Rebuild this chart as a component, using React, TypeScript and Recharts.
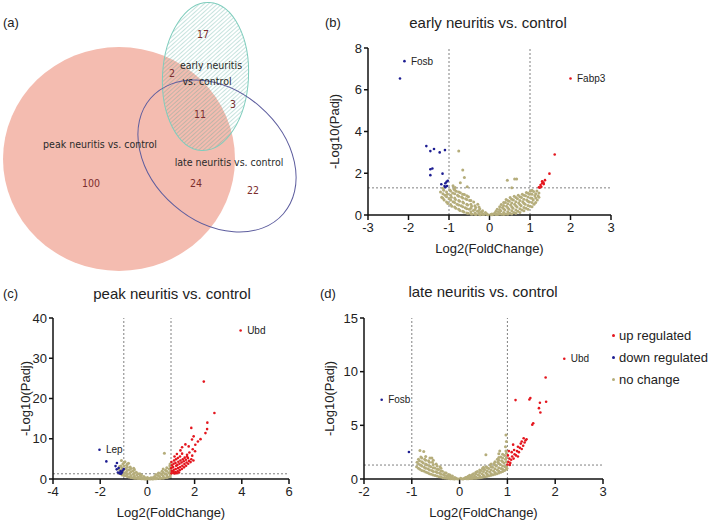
import React from "react";
import {
  Legend,
  LabelList,
  ReferenceLine,
  Scatter,
  ScatterChart,
  XAxis,
  YAxis,
  ZAxis,
} from "recharts";

type Row = [number, number, string?];

const UP = "#e4161e";
const DOWN = "#1d1d92";
const NONE = "#b5ad7b";
const AXIS = "#111";
const TEXT = "#222";
const FONT = "'Liberation Sans', Arial, sans-serif";
const VENN_FONT = "'Liberation Sans Narrow', 'DejaVu Sans Condensed', 'Liberation Sans', sans-serif";

// (a) venn
const vennSets = ["peak neuritis vs. control", "early neuritis vs. control", "late neuritis vs. control"];
const vennCounts = [17, 2, 3, 11, 100, 24, 22];

// (b) early neuritis vs. control
const earlyUp: Row[] = [
  [2.0, 6.54, "Fabp3"], [1.61, 2.9], [1.48, 1.98], [1.37, 1.67], [1.33, 1.56], [1.3, 1.52],
  [1.26, 1.44], [1.28, 1.35], [1.22, 1.33], [1.24, 1.31], [1.34, 1.48], [1.3, 1.62],
];
const earlyDown: Row[] = [
  [-2.1, 7.37, "Fosb"], [-2.21, 6.54], [-1.56, 3.3], [-1.46, 3.06], [-1.37, 3.16], [-1.23, 3.0],
  [-1.1, 3.11], [-1.41, 2.23], [-1.46, 2.19], [-1.46, 1.91], [-1.16, 1.98], [-1.19, 1.47],
  [-1.09, 1.52], [-1.06, 1.59], [-1.03, 1.64], [-1.11, 1.39], [-1.05, 1.39], [-1.09, 1.33],
];
const earlyNone: Row[] = [
  [-1.21, 1.1], [-1.18, 0.85],
  [-1.12, 0.72], [-1.1, 0.95], [-1.13, 1.18],
  [-1.03, 0.55], [-1.0, 0.78], [-1.04, 1.0], [-0.98, 1.2],
  [-0.93, 0.42], [-0.9, 0.63], [-0.94, 0.85], [-0.91, 1.05], [-0.88, 1.24],
  [-0.83, 0.32], [-0.8, 0.52], [-0.84, 0.74], [-0.79, 0.95], [-0.82, 1.14],
  [-0.73, 0.22], [-0.7, 0.44], [-0.74, 0.66], [-0.69, 0.86], [-0.72, 1.06],
  [-0.63, 0.14], [-0.6, 0.35], [-0.64, 0.57], [-0.59, 0.78], [-0.62, 0.98],
  [-0.53, 0.08], [-0.5, 0.28], [-0.54, 0.48], [-0.49, 0.7], [-0.52, 0.88],
  [-0.43, 0.04], [-0.4, 0.22], [-0.44, 0.42], [-0.39, 0.62],
  [-0.33, 0.02], [-0.3, 0.18], [-0.34, 0.36], [-0.29, 0.52],
  [-0.23, 0.01], [-0.2, 0.14], [-0.24, 0.3],
  [-0.14, 0.02], [-0.1, 0.12],
  [-0.04, 0.01], [0.03, 0.02],
  [0.1, 0.03], [0.13, 0.1],
  [0.2, 0.02], [0.22, 0.15], [0.19, 0.28],
  [0.3, 0.03], [0.28, 0.2], [0.32, 0.36], [0.29, 0.5],
  [0.4, 0.05], [0.38, 0.24], [0.42, 0.42], [0.39, 0.6], [0.41, 0.74],
  [0.5, 0.08], [0.48, 0.28], [0.52, 0.48], [0.49, 0.66], [0.51, 0.84],
  [0.6, 0.12], [0.58, 0.32], [0.62, 0.52], [0.59, 0.72], [0.61, 0.9],
  [0.7, 0.18], [0.68, 0.38], [0.72, 0.58], [0.69, 0.78], [0.71, 0.95],
  [0.8, 0.24], [0.78, 0.44], [0.82, 0.64], [0.79, 0.84], [0.81, 1.0],
  [0.9, 0.32], [0.88, 0.52], [0.92, 0.72], [0.89, 0.92], [0.91, 1.08],
  [1.0, 0.42], [0.98, 0.62], [1.02, 0.82], [0.99, 1.0], [1.01, 1.14],
  [1.1, 0.52], [1.08, 0.72], [1.12, 0.92], [1.09, 1.12],
  [1.18, 0.72], [1.2, 0.92], [1.17, 1.15],
  // in-between points of the dense cloud
  [-1.15, 0.8], [-1.15, 1.02],
  [-1.06, 0.62], [-1.06, 0.88], [-1.06, 1.1],
  [-0.96, 0.5], [-0.96, 0.72], [-0.96, 0.95], [-0.96, 1.15],
  [-0.86, 0.38], [-0.86, 0.6], [-0.86, 0.82], [-0.86, 1.02], [-0.86, 1.2],
  [-0.76, 0.28], [-0.76, 0.48], [-0.76, 0.7], [-0.76, 0.9], [-0.76, 1.1],
  [-0.66, 0.18], [-0.66, 0.4], [-0.66, 0.62], [-0.66, 0.82], [-0.66, 1.0],
  [-0.56, 0.1], [-0.56, 0.3], [-0.56, 0.52], [-0.56, 0.74], [-0.56, 0.92],
  [-0.46, 0.05], [-0.46, 0.15], [-0.46, 0.32], [-0.46, 0.52], [-0.46, 0.7],
  [-0.36, 0.03], [-0.36, 0.1], [-0.36, 0.26], [-0.36, 0.44],
  [-0.26, 0.03], [-0.26, 0.08], [-0.26, 0.22], [-0.26, 0.38],
  [-0.17, 0.02], [-0.17, 0.07], [-0.17, 0.2],
  [-0.07, 0.03], [-0.07, 0.06],
  [0.06, 0.01], [0.06, 0.05],
  [0.16, 0.02], [0.16, 0.06], [0.16, 0.18],
  [0.25, 0.05], [0.25, 0.1], [0.25, 0.26], [0.25, 0.4],
  [0.35, 0.02], [0.35, 0.12], [0.35, 0.3], [0.35, 0.46], [0.35, 0.6],
  [0.45, 0.03], [0.45, 0.16], [0.45, 0.35], [0.45, 0.54], [0.45, 0.7],
  [0.55, 0.05], [0.55, 0.2], [0.55, 0.4], [0.55, 0.58], [0.55, 0.76],
  [0.65, 0.08], [0.65, 0.24], [0.65, 0.44], [0.65, 0.64], [0.65, 0.84],
  [0.75, 0.12], [0.75, 0.3], [0.75, 0.5], [0.75, 0.7], [0.75, 0.88],
  [0.85, 0.2], [0.85, 0.36], [0.85, 0.56], [0.85, 0.76], [0.85, 0.95],
  [0.95, 0.28], [0.95, 0.46], [0.95, 0.66], [0.95, 0.86], [0.95, 1.04],
  [1.05, 0.4], [1.05, 0.6], [1.05, 0.8], [1.05, 1.0], [1.05, 1.18],
  [1.14, 0.6], [1.14, 0.82], [1.14, 1.02],
  [1.22, 0.85], [1.22, 1.05],
  // scattered above the cloud
  [-0.76, 3.06], [-0.66, 2.15], [-0.62, 1.8], [-0.72, 1.55], [-0.9, 1.4], [-0.55, 1.35],
  [-0.85, 1.32], [0.44, 1.67], [0.62, 1.72], [0.67, 1.72], [0.55, 1.3], [-1.15, 1.28],
];

// (c) peak neuritis vs. control
const peakUp: Row[] = [
  [3.95, 36.9, "Ubd"], [2.39, 24.2], [2.84, 16.4], [2.54, 14.0], [2.53, 12.4], [1.86, 12.7],
  [2.46, 11.4], [1.96, 10.6], [1.89, 9.8], [2.25, 9.9], [2.14, 9.3], [2.03, 8.5], [1.47, 7.9],
  [1.75, 8.1], [1.4, 7.1], [1.68, 6.0], [1.61, 8.6],
  [1.02, 1.4], [1.03, 2.0], [1.01, 2.7], [1.04, 3.4], [1.02, 4.2],
  [1.1, 1.5], [1.12, 2.3], [1.09, 3.0], [1.11, 3.8], [1.13, 4.6],
  [1.18, 1.7], [1.2, 2.5], [1.22, 3.3], [1.19, 4.0], [1.21, 4.9],
  [1.28, 1.9], [1.3, 2.7], [1.27, 3.5], [1.31, 4.3], [1.29, 5.2],
  [1.37, 2.2], [1.39, 3.0], [1.36, 3.8], [1.4, 4.6], [1.38, 5.6],
  [1.46, 2.5], [1.48, 3.3], [1.45, 4.1], [1.5, 4.9], [1.47, 6.3],
  [1.55, 2.9], [1.57, 3.7], [1.54, 4.4], [1.58, 5.3],
  [1.64, 3.3], [1.66, 4.1], [1.63, 4.8], [1.68, 5.6],
  [1.73, 3.8], [1.76, 4.5], [1.72, 5.2], [1.78, 6.6],
  [1.83, 4.2], [1.86, 4.9], [1.9, 5.8], [1.95, 4.6], [2.02, 6.9], [1.92, 7.4],
  [1.15, 5.6], [1.25, 6.2], [1.08, 1.9], [1.16, 1.35], [1.24, 1.45], [1.34, 1.6],
];
const peakDown: Row[] = [
  [-2.03, 7.27, "Lep"], [-1.74, 4.37], [-1.29, 3.97], [-1.35, 3.2], [-1.22, 2.73], [-1.3, 2.4],
  [-1.14, 1.89], [-1.08, 1.64], [-1.0, 2.48], [-1.18, 1.4], [-1.05, 2.1], [-1.12, 1.3], [-1.25, 1.6],
];
const peakNone: Row[] = [
  [-1.22, 1.5], [-1.2, 2.4], [-1.18, 3.1],
  [-1.07, 1.0], [-1.05, 1.9], [-1.08, 2.8], [-1.04, 3.7], [-1.1, 4.6],
  [-0.93, 0.8], [-0.9, 1.7], [-0.92, 2.6], [-0.88, 3.4], [-0.95, 4.3],
  [-0.78, 0.5], [-0.75, 1.4], [-0.77, 2.3], [-0.73, 3.0], [-0.8, 3.9],
  [-0.63, 0.3], [-0.6, 1.2], [-0.62, 2.0], [-0.58, 2.7],
  [-0.48, 0.2], [-0.45, 1.0], [-0.47, 1.7],
  [-0.33, 0.1], [-0.3, 0.8], [-0.32, 1.3],
  [-0.18, 0.05], [-0.15, 0.6],
  [-0.03, 0.0], [0.0, 0.4],
  [0.12, 0.0], [0.15, 0.3],
  [0.28, 0.05], [0.3, 0.6],
  [0.43, 0.1], [0.45, 0.9], [0.47, 1.5],
  [0.58, 0.2], [0.6, 1.1], [0.62, 1.9],
  [0.73, 0.3], [0.75, 1.3], [0.77, 2.2],
  [0.87, 0.5], [0.9, 1.5], [0.92, 2.5], [0.95, 3.3],
  // in-between points of the dense cloud
  [-1.13, 1.3], [-1.13, 2.2], [-1.13, 3.2],
  [-0.99, 0.9], [-0.99, 1.5], [-0.99, 2.3], [-0.99, 3.2], [-0.99, 4.1],
  [-0.85, 0.6], [-0.85, 1.2], [-0.85, 2.1], [-0.85, 2.9], [-0.85, 3.7],
  [-0.7, 0.4], [-0.7, 0.9], [-0.7, 1.8], [-0.7, 2.6],
  [-0.55, 0.2], [-0.55, 0.7], [-0.55, 1.5], [-0.55, 2.3],
  [-0.4, 0.1], [-0.4, 0.5], [-0.4, 1.3],
  [-0.25, 0.05], [-0.25, 0.4], [-0.25, 1.0],
  [-0.1, 0.02], [-0.1, 0.3],
  [0.06, 0.05], [0.06, 0.2],
  [0.22, 0.02], [0.22, 0.3],
  [0.36, 0.05], [0.36, 0.4], [0.36, 1.1],
  [0.52, 0.1], [0.52, 0.6], [0.52, 1.4],
  [0.67, 0.2], [0.67, 0.8], [0.67, 1.6], [0.67, 2.5],
  [0.82, 0.4], [0.82, 1.0], [0.82, 1.9], [0.82, 2.8],
  [0.96, 0.6], [0.96, 1.6], [0.96, 2.6], [0.96, 3.7],
  [0.72, 6.4], [0.97, 1.0], [0.98, 2.0],
];

// (d) late neuritis vs. control
const lateUp: Row[] = [
  [2.19, 11.2, "Ubd"], [1.8, 9.45], [1.17, 7.35], [1.46, 7.4], [1.48, 7.55], [1.68, 7.1],
  [1.81, 7.2], [1.66, 6.6], [1.69, 6.2], [1.54, 5.2], [1.52, 5.05],
  [1.0, 1.35], [1.02, 1.6], [1.04, 1.9], [1.01, 2.2], [1.06, 1.5], [1.08, 1.8], [1.1, 2.1],
  [1.09, 2.5], [1.13, 1.9], [1.15, 2.3], [1.14, 2.7], [1.18, 2.2], [1.2, 2.6], [1.22, 3.0],
  [1.24, 2.5], [1.26, 2.9], [1.28, 3.3], [1.3, 2.8], [1.33, 3.1], [1.36, 3.4], [1.38, 3.6],
  [1.4, 3.7], [1.12, 3.2], [1.03, 2.6], [1.05, 1.3], [1.22, 2.1], [1.3, 3.5], [1.34, 3.8],
];
const lateDown: Row[] = [[-1.63, 7.38, "Fosb"], [-1.06, 2.51]];
const lateNone: Row[] = [
  [-0.9, 1.15], [-0.89, 1.55],
  [-0.83, 0.9], [-0.82, 1.3], [-0.84, 1.7], [-0.81, 2.05], [-0.83, 2.66],
  [-0.75, 0.75], [-0.74, 1.1], [-0.76, 1.5], [-0.73, 1.85], [-0.75, 2.57],
  [-0.67, 0.58], [-0.66, 0.95], [-0.68, 1.3], [-0.65, 1.7],
  [-0.59, 0.45], [-0.58, 0.8], [-0.6, 1.15], [-0.57, 1.55], [-0.58, 1.95],
  [-0.51, 0.33], [-0.5, 0.68], [-0.52, 1.02], [-0.49, 1.4],
  [-0.43, 0.22], [-0.42, 0.55], [-0.44, 0.88], [-0.41, 1.15],
  [-0.35, 0.12], [-0.34, 0.42], [-0.36, 0.72],
  [-0.27, 0.06], [-0.26, 0.3], [-0.28, 0.55],
  [-0.19, 0.02], [-0.18, 0.2], [-0.2, 0.38],
  [-0.11, 0.01], [-0.1, 0.14],
  [-0.03, 0.0], [0.02, 0.06],
  [0.07, 0.01], [0.1, 0.08],
  [0.15, 0.02], [0.14, 0.16],
  [0.22, 0.04], [0.23, 0.2], [0.21, 0.34],
  [0.3, 0.06], [0.31, 0.28], [0.29, 0.5],
  [0.38, 0.1], [0.39, 0.4], [0.37, 0.7],
  [0.46, 0.15], [0.47, 0.48], [0.45, 0.8], [0.48, 1.0],
  [0.54, 0.22], [0.55, 0.55], [0.53, 0.88], [0.56, 1.15],
  [0.62, 0.3], [0.63, 0.65], [0.61, 0.98], [0.64, 1.3],
  [0.7, 0.4], [0.71, 0.75], [0.69, 1.1], [0.72, 1.45],
  [0.78, 0.5], [0.79, 0.85], [0.77, 1.2], [0.8, 1.55], [0.79, 1.85],
  [0.86, 0.62], [0.87, 0.98], [0.85, 1.35], [0.88, 1.7], [0.86, 2.05], [0.82, 2.35], [0.84, 2.6],
  [0.94, 0.8], [0.95, 1.15], [0.93, 1.5], [0.96, 1.85], [0.94, 2.2], [0.97, 2.6], [0.96, 3.0],
  [0.98, 3.5], [0.97, 4.1],
  // in-between points of the dense cloud
  [-0.86, 1.0], [-0.86, 1.4], [-0.86, 1.85],
  [-0.79, 0.8], [-0.79, 1.2], [-0.79, 1.6], [-0.79, 1.95],
  [-0.71, 0.65], [-0.71, 1.0], [-0.71, 1.4], [-0.71, 1.75], [-0.71, 2.1],
  [-0.63, 0.5], [-0.63, 0.85], [-0.63, 1.2], [-0.63, 1.55],
  [-0.55, 0.38], [-0.55, 0.7], [-0.55, 1.05], [-0.55, 1.35], [-0.55, 1.75],
  [-0.47, 0.28], [-0.47, 0.6], [-0.47, 0.9], [-0.47, 1.2],
  [-0.39, 0.18], [-0.39, 0.45], [-0.39, 0.75], [-0.39, 1.0],
  [-0.31, 0.1], [-0.31, 0.32], [-0.31, 0.58],
  [-0.23, 0.04], [-0.23, 0.2], [-0.23, 0.42],
  [-0.15, 0.03], [-0.15, 0.12], [-0.15, 0.28],
  [-0.07, 0.02], [-0.07, 0.08],
  [0.04, 0.03],
  [0.12, 0.04], [0.12, 0.12],
  [0.18, 0.03], [0.18, 0.1], [0.18, 0.26],
  [0.26, 0.05], [0.26, 0.16], [0.26, 0.4],
  [0.34, 0.08], [0.34, 0.22], [0.34, 0.5], [0.34, 0.62],
  [0.42, 0.12], [0.42, 0.3], [0.42, 0.6], [0.42, 0.85],
  [0.5, 0.18], [0.5, 0.35], [0.5, 0.7], [0.5, 0.95], [0.5, 1.1],
  [0.58, 0.26], [0.58, 0.45], [0.58, 0.75], [0.58, 1.05],
  [0.66, 0.34], [0.66, 0.5], [0.66, 0.85], [0.66, 1.15], [0.66, 1.4],
  [0.74, 0.44], [0.74, 0.6], [0.74, 0.95], [0.74, 1.3], [0.74, 1.6],
  [0.82, 0.55], [0.82, 0.75], [0.82, 1.05], [0.82, 1.45], [0.82, 1.75], [0.82, 2.0],
  [0.9, 0.7], [0.9, 0.9], [0.9, 1.2], [0.9, 1.6], [0.9, 1.95], [0.9, 2.3],
  [0.98, 0.9], [0.98, 1.2], [0.98, 1.6], [0.98, 2.0], [0.98, 2.4],
  [0.55, 2.26], [-0.62, 1.95], [0.99, 1.0],
];

const padjCut = 1.3; // -log10(0.05)
const foldCut = 1;
const legendOrder = ["up regulated", "down regulated", "no change"];

const toPts = (rows: Row[]) => rows.map(([x, y, gene]) => ({ x, y, gene }));

const dot = (r: number, color: string) => (p: any) => (
  <circle cx={p.cx} cy={p.cy} r={r} fill={color} />
);

// venn layout, in svg px
const vennShapes = [
  { x: 119, y: 159, rx: 116, ry: 112, rot: 0, kind: "peak" },
  { x: 205.5, y: 76.5, rx: 43, ry: 74, rot: 3, kind: "early" },
  { x: 217, y: 156, rx: 88, ry: 65.5, rot: 41, kind: "late" },
];
const vennCountPos = [[203, 34], [172, 73], [233, 104], [200, 114], [91, 183], [196, 183], [253, 190]];
const vennLabels = [
  { x: 100, y: 144, text: vennSets[0] },
  { x: 211, y: 65, text: "early neuritis" },
  { x: 207, y: 81, text: "vs. control" },
  { x: 229, y: 162, text: vennSets[2] },
];

const VennShape = (p: any) => {
  const { cx, cy, payload } = p;
  const t = `rotate(${payload.rot} ${cx} ${cy})`;
  if (payload.kind === "peak") {
    return <ellipse cx={cx} cy={cy} rx={payload.rx} ry={payload.ry} fill="#f4bcb0" />;
  }
  if (payload.kind === "early") {
    return (
      <g>
        <defs>
          <pattern id="hatch" width={3} height={3} patternUnits="userSpaceOnUse" patternTransform="rotate(45)">
            <line x1={0} y1={0} x2={0} y2={3} stroke="#4fa595" strokeOpacity={0.85} strokeWidth={0.75} />
          </pattern>
        </defs>
        <ellipse cx={cx} cy={cy} rx={payload.rx} ry={payload.ry} fill="url(#hatch)" stroke="#7fcdbd" strokeWidth={1} transform={t} />
      </g>
    );
  }
  return <ellipse cx={cx} cy={cy} rx={payload.rx} ry={payload.ry} fill="none" stroke="#5d5d9e" strokeWidth={1} transform={t} />;
};

const vennText = (color: string) => (p: any) => (
  <text x={p.cx} y={p.cy} textAnchor="middle" dominantBaseline="central" fontSize={10.5} fontFamily={VENN_FONT} fill={color}>
    {p.payload.text}
  </text>
);

function Venn() {
  const counts = vennCounts.map((c, i) => ({ x: vennCountPos[i][0], y: vennCountPos[i][1], text: String(c) }));
  return (
    <ScatterChart width={300} height={280} margin={{ top: 0, right: 0, bottom: 0, left: 0 }}>
      <XAxis type="number" dataKey="x" domain={[0, 300]} hide />
      <YAxis type="number" dataKey="y" domain={[0, 280]} reversed hide />
      <Scatter data={vennShapes} shape={VennShape} isAnimationActive={false} />
      <Scatter data={vennLabels} shape={vennText("#2a2a2a")} isAnimationActive={false} />
      <Scatter data={counts} shape={vennText("#7b2d2d")} isAnimationActive={false} />
    </ScatterChart>
  );
}

const renderLegend = (props: any) => {
  const items = [...(props.payload || [])].sort(
    (a: any, b: any) => legendOrder.indexOf(a.value) - legendOrder.indexOf(b.value)
  );
  return (
    <div>
      {items.map((it: any) => (
        <div key={it.value} style={{ display: "flex", alignItems: "center", height: 22, fontSize: 13, color: TEXT, whiteSpace: "nowrap" }}>
          <span style={{ flex: "none", width: 3, height: 3, borderRadius: "50%", background: it.color, marginRight: 4 }} />
          {it.value}
        </div>
      ))}
    </div>
  );
};

type VolcanoProps = {
  width: number;
  height: number;
  margin: { top: number; right: number; bottom: number; left: number };
  xDomain: [number, number];
  xTicks: number[];
  yDomain: [number, number];
  yTicks: number[];
  up: Row[];
  down: Row[];
  none: Row[];
  yAxisWidth: number;
  yLabelOffset: number;
  r: number;
  legendPos?: { left: number; top: number };
};

function Volcano(p: VolcanoProps) {
  const tick = { fontSize: 13, fill: TEXT };
  return (
    <ScatterChart width={p.width} height={p.height} margin={p.margin}>
      <XAxis
        type="number"
        dataKey="x"
        domain={p.xDomain}
        ticks={p.xTicks}
        interval={0}
        stroke={AXIS}
        strokeWidth={1.5}
        tickSize={5}
        tickMargin={3}
        tick={tick}
        height={40}
        label={{ value: "Log2(FoldChange)", position: "insideBottom", offset: 2, fontSize: 13, fill: TEXT }}
      />
      <YAxis
        type="number"
        dataKey="y"
        domain={p.yDomain}
        ticks={p.yTicks}
        interval={0}
        stroke={AXIS}
        strokeWidth={1.5}
        tickSize={4}
        tickMargin={2}
        tick={tick}
        width={p.yAxisWidth}
        label={{
          value: "-Log10(Padj)",
          angle: -90,
          position: "insideLeft",
          offset: p.yLabelOffset,
          fontSize: 13,
          fill: TEXT,
          style: { textAnchor: "middle" },
        }}
      />
      <ZAxis range={[10, 10]} />
      <ReferenceLine x={-foldCut} stroke="#808080" strokeDasharray="2 2" />
      <ReferenceLine x={foldCut} stroke="#808080" strokeDasharray="2 2" />
      <ReferenceLine y={padjCut} stroke="#808080" strokeDasharray="2 2" />
      <Scatter name="no change" data={toPts(p.none)} fill={NONE} shape={dot(p.r, NONE)} isAnimationActive={false} />
      <Scatter name="down regulated" data={toPts(p.down)} fill={DOWN} shape={dot(1.3, DOWN)} isAnimationActive={false}>
        <LabelList dataKey="gene" position="right" offset={2} fontSize={10} fill={TEXT} />
      </Scatter>
      <Scatter name="up regulated" data={toPts(p.up)} fill={UP} shape={dot(1.3, UP)} isAnimationActive={false}>
        <LabelList dataKey="gene" position="right" offset={2} fontSize={10} fill={TEXT} />
      </Scatter>
      {p.legendPos && (
        <Legend
          layout="horizontal"
          verticalAlign="middle"
          align="center"
          content={renderLegend}
          wrapperStyle={{ left: p.legendPos.left, top: p.legendPos.top, width: 120 }}
        />
      )}
    </ScatterChart>
  );
}

const Txt = ({ x, y, size, children, center }: any) => (
  <div
    style={{
      position: "absolute",
      left: x,
      top: y,
      transform: center ? "translate(-50%, -50%)" : "translate(0, -50%)",
      fontSize: size,
      color: TEXT,
      whiteSpace: "nowrap",
      lineHeight: 1,
    }}
  >
    {children}
  </div>
);

export default function App() {
  return (
    <div style={{ position: "absolute", left: 0, top: 0, width: 709, height: 526, background: "#fff", fontFamily: FONT, overflow: "hidden" }}>
      <div style={{ position: "absolute", left: 0, top: 0 }}>
        <Venn />
      </div>
      <div style={{ position: "absolute", left: 300, top: 0 }}>
        <Volcano
          width={330}
          height={270}
          margin={{ top: 48, right: 19, bottom: 15, left: 16 }}
          xDomain={[-3, 3]}
          xTicks={[-3, -2, -1, 0, 1, 2, 3]}
          yDomain={[0, 8]}
          yTicks={[0, 2, 4, 6, 8]}
          up={earlyUp}
          down={earlyDown}
          none={earlyNone}
          yAxisWidth={52}
          yLabelOffset={18}
          r={1.5}
        />
      </div>
      <div style={{ position: "absolute", left: 0, top: 265 }}>
        <Volcano
          width={310}
          height={260}
          margin={{ top: 53, right: 21, bottom: 6, left: 8 }}
          xDomain={[-4, 6]}
          xTicks={[-4, -2, 0, 2, 4, 6]}
          yDomain={[0, 40]}
          yTicks={[0, 10, 20, 30, 40]}
          up={peakUp}
          down={peakDown}
          none={peakNone}
          yAxisWidth={45}
          yLabelOffset={17}
          r={1.5}
        />
      </div>
      <div style={{ position: "absolute", left: 300, top: 265 }}>
        <Volcano
          width={409}
          height={260}
          margin={{ top: 53, right: 106, bottom: 6, left: 19 }}
          xDomain={[-2, 3]}
          xTicks={[-2, -1, 0, 1, 2, 3]}
          yDomain={[0, 15]}
          yTicks={[0, 5, 10, 15]}
          up={lateUp}
          down={lateDown}
          none={lateNone}
          yAxisWidth={45}
          yLabelOffset={10}
          r={1.5}
          legendPos={{ left: 312, top: 59 }}
        />
      </div>
      <Txt x={3} y={22} size={13}>(a)</Txt>
      <Txt x={325} y={22} size={13}>(b)</Txt>
      <Txt x={3} y={293} size={13}>(c)</Txt>
      <Txt x={320} y={293} size={13}>(d)</Txt>
      <Txt x={488} y={22} size={15} center>early neuritis vs. control</Txt>
      <Txt x={172} y={293} size={15} center>peak neuritis vs. control</Txt>
      <Txt x={483} y={291} size={15} center>late neuritis vs. control</Txt>
    </div>
  );
}
